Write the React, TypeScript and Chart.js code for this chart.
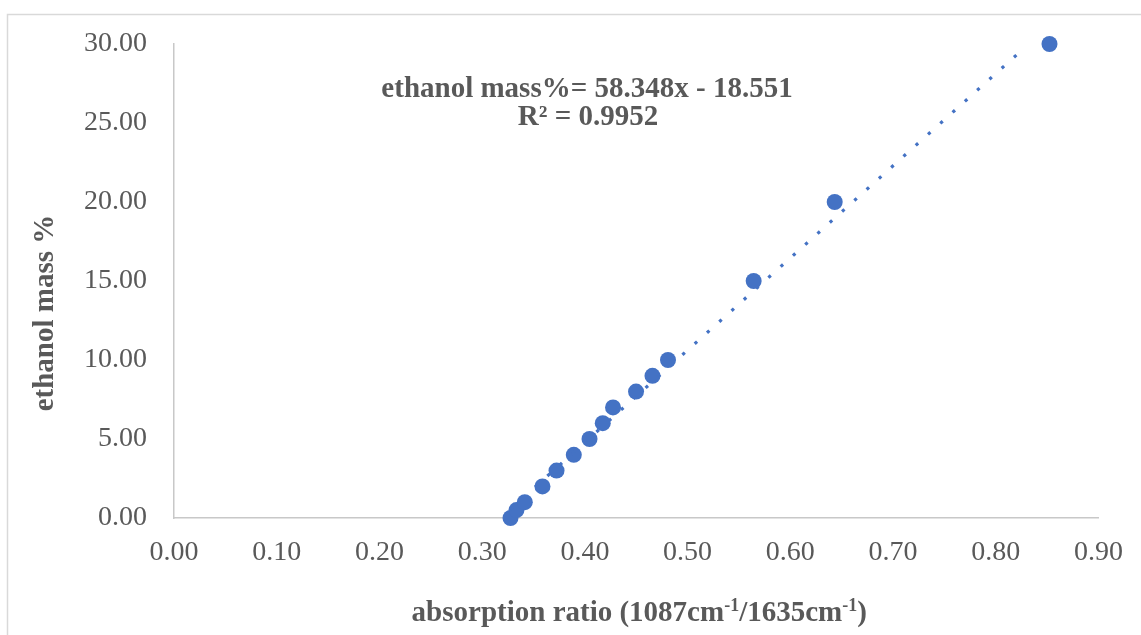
import React, { useEffect, useRef } from "react";
import { Chart, registerables } from "chart.js";

Chart.register(...registerables);

// ---- data ----
const absorptionRatio = [0.3276, 0.3334, 0.3415, 0.3587, 0.3724, 0.3892, 0.4045, 0.4174, 0.4274, 0.4498, 0.4658, 0.4809, 0.5643, 0.6432, 0.8523];
const ethanolMass = [0, 0.5, 1, 2, 3, 4, 5, 6, 7, 8, 9, 10, 15, 20, 30];
const trendSlope = 58.348;
const trendIntercept = -18.551;
const trendXRange = [0.3276, 0.8228];
const equationLines = ["ethanol mass%= 58.348x - 18.551", "R² = 0.9952"];
const yTitle = "ethanol mass %";
const xTitleParts: { t: string; sup?: boolean }[] = [
  { t: "absorption ratio (1087cm" },
  { t: "-1", sup: true },
  { t: "/1635cm" },
  { t: "-1", sup: true },
  { t: ")" },
];

const TEXT = "#595959";
const SERIF = "'Liberation Serif', 'Times New Roman', serif";

const overlay = {
  id: "overlay",
  afterDraw(chart: any) {
    const ctx = chart.ctx as CanvasRenderingContext2D;
    const area = chart.chartArea;
    ctx.save();
    // outer frame (top & left visible)
    ctx.strokeStyle = "#d9d9d9";
    ctx.lineWidth = 1.5;
    ctx.beginPath();
    ctx.moveTo(7.5, 635);
    ctx.lineTo(7.5, 14.5);
    ctx.lineTo(1141, 14.5);
    ctx.stroke();

    ctx.fillStyle = TEXT;
    // equation
    ctx.font = `bold 29px ${SERIF}`;
    ctx.textAlign = "center";
    ctx.textBaseline = "alphabetic";
    ctx.fillText(equationLines[0], 587, 97);
    ctx.fillText(equationLines[1], 588, 125);

    // y title
    ctx.save();
    ctx.translate(53, 313);
    ctx.rotate(-Math.PI / 2);
    ctx.font = `bold 29px ${SERIF}`;
    ctx.textAlign = "center";
    ctx.fillText(yTitle, 0, 0);
    ctx.restore();

    // x title with superscripts
    const big = `bold 29px ${SERIF}`;
    const small = `bold 18px ${SERIF}`;
    let total = 0;
    const widths = xTitleParts.map((p) => {
      ctx.font = p.sup ? small : big;
      const w = ctx.measureText(p.t).width;
      total += w;
      return w;
    });
    let x = (area.left + area.right) / 2 - total / 2 + 3;
    ctx.textAlign = "left";
    xTitleParts.forEach((p, i) => {
      ctx.font = p.sup ? small : big;
      ctx.fillText(p.t, x, p.sup ? 611 : 621);
      x += widths[i];
    });
    ctx.restore();
  },
};

export default function App() {
  const ref = useRef<HTMLCanvasElement>(null);
  useEffect(() => {
    if (!ref.current) return;
    const points = absorptionRatio.map((x, i) => ({ x, y: ethanolMass[i] }));
    const trend = trendXRange.map((x) => ({ x, y: trendSlope * x + trendIntercept }));
    const chart = new Chart(ref.current, {
      type: "scatter",
      data: {
        datasets: [
          {
            type: "line",
            label: "Linear trend",
            data: trend,
            borderColor: "#4472C4",
            borderWidth: 3.2,
            borderDash: [3.2, 13.3],
            pointRadius: 0,
            fill: false,
            clip: false,
          } as any,
          {
            label: "ethanol mass %",
            data: points,
            backgroundColor: "#4472C4",
            borderColor: "#4472C4",
            pointRadius: 8,
            pointBorderWidth: 0,
            clip: false,
          } as any,
        ],
      },
      options: {
        responsive: false,
        animation: false,
        layout: { padding: { top: 44, right: 42, left: 0, bottom: 0 } },
        plugins: { legend: { display: false }, tooltip: { enabled: false } },
        scales: {
          x: {
            type: "linear",
            min: 0,
            max: 0.9,
            grid: { display: false, drawTicks: false },
            border: { display: true, color: "#c8c8c8", width: 1.5 },
            ticks: {
              stepSize: 0.1,
              padding: 18,
              color: TEXT,
              font: { family: SERIF, size: 28 },
              maxRotation: 0,
              callback: (v: any) => Number(v).toFixed(2),
            },
            afterFit: (s: any) => {
              s.height = 117;
            },
          },
          y: {
            type: "linear",
            min: 0,
            max: 30,
            grid: { display: false, drawTicks: false },
            border: { display: true, color: "#c8c8c8", width: 1.5 },
            ticks: {
              stepSize: 5,
              padding: 27,
              color: TEXT,
              font: { family: SERIF, size: 28 },
              callback: (v: any) => Number(v).toFixed(2),
            },
            afterFit: (s: any) => {
              s.width = 174;
            },
          },
        },
      },
      plugins: [overlay],
    });
    return () => chart.destroy();
  }, []);
  return (
    <div style={{ position: "fixed", left: 0, top: 0, width: 1141, height: 635, background: "#fff" }}>
      <canvas ref={ref} width={1141} height={635} />
    </div>
  );
}
